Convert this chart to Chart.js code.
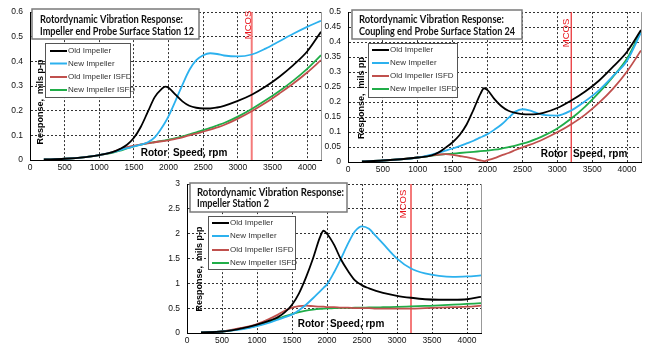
<!DOCTYPE html>
<html>
<head>
<meta charset="utf-8">
<script src="https://cdn.jsdelivr.net/npm/chart.js@4/dist/chart.umd.min.js"></script>
<style>
  body { margin: 0; background: #fff; width: 660px; height: 349px; overflow: hidden; position: relative; }
  canvas { position: absolute; }
</style>
</head>
<body>
<canvas id="st12" width="324" height="176" style="left:0px;top:0px"></canvas>
<canvas id="st24" width="326" height="177" style="left:320px;top:0px"></canvas>
<canvas id="st2" width="340" height="177" style="left:150px;top:172px"></canvas>
<script>
// shared speed grid, rpm
const rpm = [200, 500, 800, 1000, 1200, 1300, 1400, 1500, 1600, 1700, 1800, 1900, 1950, 2000,
             2100, 2200, 2300, 2400, 2500, 2600, 2700, 2800, 3000, 3200, 3400, 3600, 3800, 4000, 4200];
const xTicks = [0, 500, 1000, 1500, 2000, 2500, 3000, 3500, 4000];
const mcosSpeed = 3200;

const seriesNames = ['Old Impeller', 'New Impeller', 'Old Impeller ISFD', 'New Impeller ISFD'];
const seriesColors = ['#000000', '#2cb1ee', '#c0504d', '#20ad48'];

// Station 12 - impeller end probe
const st12Old = [0.002, 0.005, 0.012, 0.02, 0.033, 0.045, 0.062, 0.09, 0.135, 0.195, 0.255, 0.288, 0.298, 0.293,
                 0.265, 0.238, 0.22, 0.212, 0.209, 0.209, 0.213, 0.22, 0.24, 0.265, 0.298, 0.338, 0.385, 0.44, 0.52];
const st12New = [0.002, 0.005, 0.012, 0.02, 0.032, 0.04, 0.048, 0.055, 0.062, 0.072, 0.092, 0.13, 0.152, 0.178,
                 0.24, 0.305, 0.365, 0.405, 0.425, 0.433, 0.43, 0.424, 0.42, 0.428, 0.452, 0.482, 0.512, 0.54, 0.565];
const st12OldIsfd = [0.002, 0.005, 0.012, 0.02, 0.033, 0.043, 0.052, 0.058, 0.063, 0.068, 0.072, 0.076, 0.078, 0.08,
                     0.086, 0.092, 0.1, 0.107, 0.115, 0.123, 0.132, 0.142, 0.168, 0.198, 0.232, 0.27, 0.31, 0.355, 0.405];
const st12NewIsfd = [0.002, 0.005, 0.012, 0.02, 0.03, 0.038, 0.047, 0.055, 0.062, 0.068, 0.073, 0.078, 0.08, 0.083,
                     0.089, 0.096, 0.104, 0.112, 0.121, 0.13, 0.14, 0.15, 0.176, 0.207, 0.242, 0.28, 0.322, 0.37, 0.425];
const st12YTicks = [0, 0.1, 0.2, 0.3, 0.4, 0.5, 0.6];

// Station 24 - coupling end probe
const st24Old = [0.002, 0.005, 0.01, 0.015, 0.022, 0.032, 0.048, 0.066, 0.09, 0.125, 0.175, 0.228, 0.246, 0.24,
                 0.21, 0.186, 0.171, 0.164, 0.16, 0.159, 0.16, 0.164, 0.18, 0.205, 0.235, 0.272, 0.318, 0.368, 0.44];
const st24New = [0.002, 0.005, 0.01, 0.015, 0.025, 0.031, 0.038, 0.045, 0.053, 0.062, 0.071, 0.082, 0.087, 0.093,
                 0.108, 0.125, 0.147, 0.168, 0.176, 0.172, 0.164, 0.157, 0.155, 0.172, 0.203, 0.24, 0.287, 0.338, 0.432];
const st24OldIsfd = [0.002, 0.005, 0.01, 0.015, 0.022, 0.025, 0.026, 0.024, 0.02, 0.016, 0.011, 0.005, 0.003, 0.006,
                     0.013, 0.022, 0.03, 0.04, 0.049, 0.057, 0.066, 0.076, 0.099, 0.126, 0.158, 0.198, 0.245, 0.302, 0.372];
const st24NewIsfd = [0.002, 0.005, 0.01, 0.015, 0.021, 0.024, 0.026, 0.028, 0.03, 0.032, 0.034, 0.036, 0.037, 0.038,
                     0.041, 0.045, 0.05, 0.055, 0.061, 0.068, 0.077, 0.087, 0.112, 0.145, 0.185, 0.232, 0.285, 0.345, 0.437];
const st24YTicks = [0, 0.05, 0.1, 0.15, 0.2, 0.25, 0.3, 0.35, 0.4, 0.45, 0.5];

// Station 2 - impeller
const st2Old = [0.01, 0.03, 0.1, 0.17, 0.26, 0.32, 0.42, 0.57, 0.8, 1.12, 1.5, 1.93, 2.06, 2.0,
                1.78, 1.48, 1.25, 1.06, 0.96, 0.9, 0.85, 0.81, 0.75, 0.71, 0.68, 0.67, 0.67, 0.68, 0.73];
const st2New = [0.01, 0.03, 0.08, 0.14, 0.22, 0.27, 0.32, 0.37, 0.46, 0.57, 0.7, 0.84, 0.91, 0.98,
                1.22, 1.5, 1.8, 2.05, 2.15, 2.1, 1.95, 1.8, 1.5, 1.3, 1.2, 1.15, 1.13, 1.14, 1.16];
const st2OldIsfd = [0.01, 0.03, 0.11, 0.18, 0.3, 0.37, 0.45, 0.51, 0.54, 0.55, 0.54, 0.53, 0.53, 0.52,
                    0.52, 0.51, 0.51, 0.5, 0.5, 0.5, 0.49, 0.49, 0.49, 0.49, 0.5, 0.51, 0.52, 0.53, 0.55];
const st2NewIsfd = [0.01, 0.03, 0.09, 0.15, 0.24, 0.29, 0.34, 0.38, 0.42, 0.45, 0.47, 0.485, 0.49, 0.495,
                    0.5, 0.505, 0.505, 0.51, 0.51, 0.515, 0.515, 0.52, 0.525, 0.535, 0.545, 0.555, 0.57, 0.585, 0.6];
const st2YTicks = [0, 0.5, 1, 1.5, 2, 2.5, 3];

const tickFont = { family: '"Liberation Sans", Arial, sans-serif', size: 8.5 };

// boxes, legend, axis titles and MCOS label (page coordinates)
function decorPlugin(d) {
    return {
        id: 'decor',
        afterDraw(chart) {
            const ctx = chart.ctx;
            const a = chart.chartArea;
            const X = v => v - d.off[0], Y = v => v - d.off[1];
            ctx.save();

            // right edge of plot
            ctx.strokeStyle = '#999';
            ctx.lineWidth = 1;
            ctx.beginPath();
            ctx.moveTo(Math.round(a.right) + 0.5, a.top);
            ctx.lineTo(Math.round(a.right) + 0.5, a.bottom);
            ctx.stroke();

            // title box
            const t = d.titleBox;
            ctx.fillStyle = '#fff';
            ctx.strokeStyle = '#7a7a7a';
            ctx.lineWidth = 1.5;
            ctx.fillRect(X(t[0]), Y(t[1]), t[2], t[3]);
            ctx.strokeRect(X(t[0]), Y(t[1]), t[2], t[3]);
            ctx.fillStyle = '#111';
            ctx.font = 'bold 10.5px Lato, "Liberation Sans", sans-serif';
            ctx.textBaseline = 'middle';
            ctx.textAlign = 'left';
            d.title.forEach((line, i) => {
                ctx.fillText(line, X(d.titleX), Y(d.titleY[i]), d.titleW[i]);
            });

            // legend
            const l = d.legendBox;
            ctx.fillStyle = '#fff';
            ctx.strokeStyle = '#555';
            ctx.lineWidth = 1;
            ctx.fillRect(X(l[0]), Y(l[1]), l[2], l[3]);
            ctx.strokeRect(X(l[0]) + 0.5, Y(l[1]) + 0.5, l[2], l[3]);
            ctx.font = '8px "Liberation Sans", Arial, sans-serif';
            seriesNames.forEach((name, i) => {
                const yy = Y(d.legendY[i]);
                ctx.strokeStyle = seriesColors[i];
                ctx.lineWidth = 2;
                ctx.beginPath();
                ctx.moveTo(X(d.legendX), yy);
                ctx.lineTo(X(d.legendX) + 17, yy);
                ctx.stroke();
                ctx.fillStyle = '#333';
                ctx.fillText(name, X(d.legendX) + 18, yy);
            });

            // axis titles
            ctx.fillStyle = '#000';
            ctx.font = 'bold 9px "Liberation Sans", Arial, sans-serif';
            ctx.textAlign = 'center';
            ctx.save();
            ctx.translate(X(d.yTitle[0]), Y(d.yTitle[1]));
            ctx.rotate(-Math.PI / 2);
            ctx.fillText(d.yTitleText, 0, 0);
            ctx.restore();
            ctx.font = 'bold 10px "Liberation Sans", Arial, sans-serif';
            ctx.fillText('Rotor  Speed, rpm', X(d.xTitle[0]), Y(d.xTitle[1]));

            // MCOS label
            ctx.fillStyle = '#e8141c';
            ctx.font = '9.5px "Liberation Sans", Arial, sans-serif';
            ctx.save();
            ctx.translate(X(d.mcos[0]), Y(d.mcos[1]));
            ctx.rotate(-Math.PI / 2);
            ctx.fillText('MCOS', 0, 0);
            ctx.restore();

            ctx.restore();
        }
    };
}

function makeChart(id, series, yTicks, lay, d) {
    const yMax = yTicks[yTicks.length - 1];
    const datasets = series.map((vals, i) => ({
        label: seriesNames[i],
        data: rpm.map((x, j) => ({ x: x, y: vals[j] })),
        borderColor: seriesColors[i],
        borderWidth: 1.8,
        pointRadius: 0,
        cubicInterpolationMode: 'monotone',
        order: 1
    }));
    datasets.push({
        label: 'MCOS',
        data: [{ x: mcosSpeed, y: 0 }, { x: mcosSpeed, y: yMax }],
        borderColor: lay.mcosColor,
        borderWidth: lay.mcosWidth,
        pointRadius: 0,
        order: 5
    });

    new Chart(document.getElementById(id), {
        type: 'line',
        data: { datasets: datasets },
        options: {
            responsive: false,
            animation: false,
            layout: { padding: { left: 0, right: lay.padRight, top: lay.padTop, bottom: 0 } },
            scales: {
                x: {
                    type: 'linear',
                    min: 0,
                    max: 4200,
                    afterBuildTicks: s => { s.ticks = xTicks.map(v => ({ value: v })); },
                    afterFit: s => { s.height = lay.xAxisH; },
                    ticks: { font: tickFont, color: '#111', padding: 3, maxRotation: 0, callback: v => String(v) },
                    grid: { color: '#333', lineWidth: 1, drawTicks: false },
                    border: { display: true, color: '#000', width: 1, dash: [2, 2] }
                },
                y: {
                    min: 0,
                    max: yMax,
                    afterBuildTicks: s => { s.ticks = yTicks.map(v => ({ value: v })); },
                    afterFit: s => { s.width = lay.yAxisW; },
                    ticks: { font: tickFont, color: '#111', padding: 7, callback: v => String(v) },
                    grid: { color: '#333', lineWidth: 1, drawTicks: false },
                    border: { display: true, color: '#000', width: 1, dash: [2, 2] }
                }
            },
            plugins: {
                legend: { display: false },
                tooltip: { enabled: false }
            }
        },
        plugins: [decorPlugin(d)]
    });
}

makeChart('st12', [st12Old, st12New, st12OldIsfd, st12NewIsfd], st12YTicks,
    { padRight: 3, padTop: 9, xAxisH: 16, yAxisW: 30, mcosColor: '#f47a7a', mcosWidth: 2 },
    {
        off: [0, 0],
        titleBox: [32, 9, 167, 30],
        title: ['Rotordynamic Vibration Response:', 'Impeller end Probe Surface Station 12'],
        titleX: 40, titleY: [20, 32], titleW: [143, 154],
        legendBox: [45, 43, 85, 54],
        legendX: 50, legendY: [51, 63.5, 77, 90],
        yTitle: [41, 102], yTitleText: 'Response,  mils p-p',
        xTitle: [184, 153],
        mcos: [248, 25]
    });

makeChart('st24', [st24Old, st24New, st24OldIsfd, st24NewIsfd], st24YTicks,
    { padRight: 5, padTop: 7, xAxisH: 15, yAxisW: 28, mcosColor: '#e8262a', mcosWidth: 1.2 },
    {
        off: [320, 0],
        titleBox: [352, 10, 170, 29],
        title: ['Rotordynamic Vibration Response:', 'Coupling end Probe Surface Station 24'],
        titleX: 359, titleY: [19.5, 32], titleW: [145, 156],
        legendBox: [368, 43, 89, 54],
        legendX: 372, legendY: [50, 63, 76, 89],
        yTitle: [362, 98], yTitleText: 'Response,  mils pp',
        xTitle: [584, 154],
        mcos: [566, 33]
    });

makeChart('st2', [st2Old, st2New, st2OldIsfd, st2NewIsfd], st2YTicks,
    { padRight: 9, padTop: 7, xAxisH: 16, yAxisW: 37, mcosColor: '#f47a7a', mcosWidth: 2 },
    {
        off: [150, 172],
        titleBox: [190, 183, 157, 29],
        title: ['Rotordynamic Vibration Response:', 'Impeller Station 2'],
        titleX: 197, titleY: [193, 204], titleW: [147, 72],
        legendBox: [208, 216, 87, 53],
        legendX: 212, legendY: [223, 236, 250, 263],
        yTitle: [200, 269], yTitleText: 'Response,  mils p-p',
        xTitle: [341, 324],
        mcos: [403, 204]
    });
</script>
</body>
</html>
